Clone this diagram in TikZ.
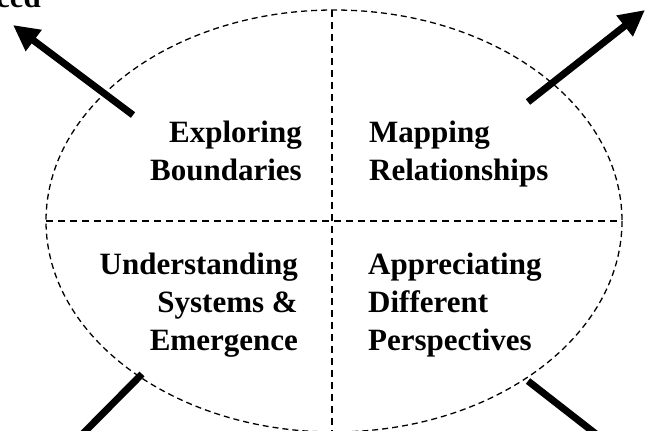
\documentclass[tikz,border=0pt]{standalone}
\usepackage{fontspec}
\setmainfont{Liberation Serif}
\usetikzlibrary{arrows.meta}
\tikzstyle{canvas} = [x = 1pt, y = -1pt]
\tikzstyle{outlineStyle} = [dash pattern = on 6pt off 4pt, line width = 1.3pt]
\tikzstyle{crossLine} = [dash pattern = on 7pt off 5pt, line width = 1.8pt]
\tikzstyle{quadText} = [font = \fontsize{31}{38}\selectfont\bfseries, inner sep = 0pt]
\tikzstyle{leftText} = [quadText, align = right, anchor = base east]
\tikzstyle{rightText} = [quadText, align = left, anchor = base west]
\tikzstyle{thrustArrow} = [line width = 7pt, -{Triangle[length = 26pt, width = 25pt]}]

\begin{document}
\begin{tikzpicture}[canvas]
      \useasboundingbox (0,0) rectangle (646,431);
      \clip (0,0) rectangle (646,431);

      % outline and quadrants
      \coordinate (centre) at (334,221);
      \draw [outlineStyle] (centre) ellipse [x radius = 288, y radius = 211];
      \coordinate (topEnd) at (332,10);
      \coordinate (bottomEnd) at (332,433);
      \coordinate (leftEnd) at (46,221);
      \coordinate (rightEnd) at (622,221);
      \draw [crossLine] (topEnd) -- (bottomEnd);
      \draw [crossLine] (leftEnd) -- (rightEnd);

      % labels (anchored on the last line)
      \node [leftText] (exploring) at (302,180) {Exploring\\Boundaries};
      \node [rightText] (mapping) at (369,180) {Mapping\\Relationships};
      \node [leftText] (understanding) at (298,350) {Understanding\\Systems \&\\Emergence};
      \node [rightText] (appreciating) at (368,350) {Appreciating\\Different\\Perspectives};
      \node [quadText, anchor = base east] (capLabel) at (41,8) {ced};

      % arrows
      \coordinate (exploringTail) at (133,115);
      \coordinate (exploringTip) at (13,25);
      \coordinate (mappingTail) at (528,102);
      \coordinate (mappingTip) at (645,10);
      \coordinate (understandingTail) at (142,374);
      \coordinate (understandingTip) at (34,483);
      \coordinate (appreciatingTail) at (528,381);
      \coordinate (appreciatingTip) at (646,473);
      \draw [thrustArrow] (exploringTail) -- (exploringTip);
      \draw [thrustArrow] (mappingTail) -- (mappingTip);
      \draw [thrustArrow] (understandingTail) -- (understandingTip);
      \draw [thrustArrow] (appreciatingTail) -- (appreciatingTip);
    \end{tikzpicture}
\end{document}
